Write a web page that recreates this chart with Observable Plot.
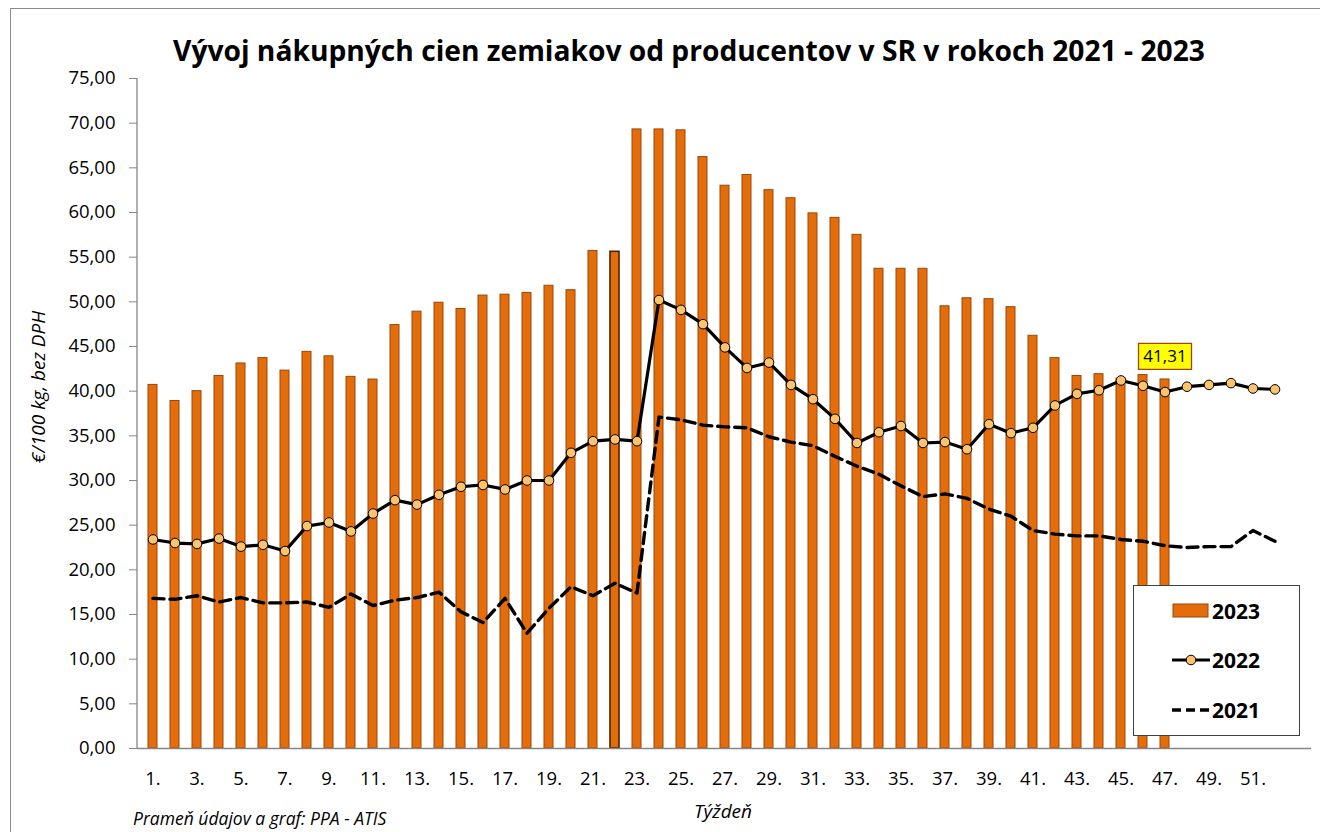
<!DOCTYPE html>
<html>
<head>
<meta charset="utf-8">
<script src="https://cdn.jsdelivr.net/npm/d3@7"></script>
<script src="https://cdn.jsdelivr.net/npm/@observablehq/plot@0.6"></script>
<style>
  body { margin: 0; background: #fff; }
  #wrap { position: relative; width: 1320px; height: 832px; overflow: hidden; font-family: "Open Sans", sans-serif; background: #fff; }
  #border { position: absolute; left: 10px; top: 8px; width: 1400px; height: 900px; border-left: 1.5px solid #8c8c8c; border-top: 1.5px solid #8c8c8c; box-sizing: border-box; }
  #chart { position: absolute; left: 0; top: 0; }
  #title { position: absolute; left: 0; top: 31px; width: 1378px; text-align: center; font-weight: 700; font-size: 28.2px; line-height: 38px; color: #000; }
  #ylabel { position: absolute; left: 38px; top: 387px; transform: translate(-50%, -50%) rotate(-90deg); font-style: italic; font-size: 19px; white-space: nowrap; color: #000; }
  #xlabel { position: absolute; left: 723px; top: 811px; transform: translate(-50%, -50%); font-style: italic; font-size: 19px; white-space: nowrap; color: #000; }
  #caption { position: absolute; left: 133px; top: 818px; transform: translateY(-50%); font-style: italic; font-size: 17.5px; white-space: nowrap; color: #000; }
  #legend { position: absolute; left: 1133px; top: 585px; width: 167px; height: 151px; border: 1.5px solid #404040; background: #fff; box-sizing: border-box; }
</style>
</head>
<body>
<div id="wrap">
  <div id="border"></div>
  <div id="chart"></div>
  <div id="title"></div>
  <div id="ylabel"></div>
  <div id="xlabel"></div>
  <div id="caption"></div>
  <div id="legend"></div>
</div>
<script>
// ---------- DATA ----------
const titleText = "Vývoj nákupných cien zemiakov od producentov v SR v rokoch 2021 - 2023";
const yAxisTitle = "€/100 kg, bez DPH";
const xAxisTitle = "Týždeň";
const sourceText = "Prameň údajov a graf: PPA - ATIS";
const seriesNames = ["2023", "2022", "2021"];

const weeks = d3.range(1, 54);            // category axis: weeks 1..53
const xTickWeeks = d3.range(1, 52, 2);    // labelled weeks 1., 3., ... 51.
const yTicks = d3.range(0, 76, 5);        // 0,00 ... 75,00

const prices2023 = [40.7, 38.9, 40.0, 41.7, 43.1, 43.7, 42.3, 44.4, 43.9, 41.6,
                    41.3, 47.4, 48.9, 49.9, 49.2, 50.7, 50.8, 51.0, 51.8, 51.3,
                    55.7, 55.6, 69.3, 69.3, 69.2, 66.2, 63.0, 64.2, 62.5, 61.6,
                    59.9, 59.4, 57.5, 53.7, 53.7, 53.7, 49.5, 50.4, 50.3, 49.4,
                    46.2, 43.7, 41.7, 41.9, 41.4, 41.8, 41.31];
const prices2022 = [23.4, 23.0, 22.9, 23.5, 22.6, 22.8, 22.1, 24.9, 25.3, 24.3,
                    26.3, 27.8, 27.3, 28.4, 29.3, 29.5, 29.0, 30.0, 30.0, 33.1,
                    34.4, 34.6, 34.4, 50.2, 49.1, 47.5, 44.9, 42.6, 43.2, 40.7,
                    39.1, 36.9, 34.2, 35.4, 36.1, 34.2, 34.3, 33.5, 36.3, 35.3,
                    35.9, 38.4, 39.7, 40.1, 41.2, 40.6, 39.9, 40.5, 40.7, 40.9,
                    40.3, 40.2];
const prices2021 = [16.8, 16.7, 17.1, 16.4, 16.9, 16.3, 16.3, 16.4, 15.8, 17.3,
                    16.0, 16.6, 16.9, 17.5, 15.3, 14.1, 16.8, 12.9, 15.7, 18.1,
                    17.1, 18.5, 17.4, 37.1, 36.8, 36.2, 36.0, 35.9, 34.9, 34.3,
                    33.9, 32.7, 31.6, 30.7, 29.4, 28.2, 28.5, 28.0, 26.8, 26.0,
                    24.4, 24.0, 23.8, 23.8, 23.4, 23.2, 22.7, 22.5, 22.6, 22.6,
                    24.4, 23.2];
const highlightedWeek = 22;   // bar drawn with a darker outline in the original

// ---------- TABLES ----------
const bars = prices2023.map((v, i) => ({week: i + 1, value: v}));
const line22 = prices2022.map((v, i) => ({week: i + 1, value: v}));
const line21 = prices2021.map((v, i) => ({week: i + 1, value: v}));
const lastLabel = [bars[bars.length - 1]];

const comma2 = v => d3.format(".2f")(v).replace(".", ",");
const dotFill = "#F9C46C";
const barFill = "#E46C0A";
const barStroke = "#984807";

const boxSymbol = { draw(ctx) { ctx.rect(-26.5, -13, 53, 26); } };

function leftAxisLine(index, scales, values, dimensions) {
  const {marginLeft, marginTop, height, marginBottom} = dimensions;
  const ns = "http://www.w3.org/2000/svg";
  const l = document.createElementNS(ns, "line");
  l.setAttribute("x1", marginLeft); l.setAttribute("x2", marginLeft);
  l.setAttribute("y1", marginTop); l.setAttribute("y2", height - marginBottom);
  l.setAttribute("stroke", "#868686"); l.setAttribute("stroke-width", 1.3);
  return l;
}

const chart = Plot.plot({
  width: 1320,
  height: 832,
  marginLeft: 137,
  marginRight: 9,
  marginTop: 78,
  marginBottom: 84,
  style: {fontFamily: "Open Sans", fontSize: "18px", color: "#000", background: "transparent", overflow: "visible"},
  x: {type: "band", domain: weeks, paddingInner: 0.6, paddingOuter: 0.3, label: null},
  y: {domain: [0, 75], label: null},
  marks: [
    Plot.barY(bars, {x: "week", y: "value", fill: barFill,
      stroke: d => d.week === highlightedWeek ? "#4a2200" : barStroke,
      strokeWidth: d => d.week === highlightedWeek ? 1.6 : 1}),
    Plot.ruleY([0], {stroke: "#868686", strokeWidth: 1.3}),
    leftAxisLine,
    Plot.axisY({ticks: yTicks, tickFormat: comma2, tickSize: 8, tickPadding: 14, stroke: "#868686", fill: "#000", label: null, fontSize: 18.5}),
    Plot.axisX({ticks: xTickWeeks, tickFormat: d => d + ".", tickSize: 0, tickPadding: 23, fill: "#000", label: null, fontSize: 18.5}),
    Plot.line(line21, {x: "week", y: "value", stroke: "#000", strokeWidth: 3.4, strokeDasharray: "11,6", strokeLinejoin: "round"}),
    Plot.line(line22, {x: "week", y: "value", stroke: "#000", strokeWidth: 3.2, strokeLinejoin: "round"}),
    Plot.dot(line22, {x: "week", y: "value", r: 4.8, fill: dotFill, stroke: "#000", strokeWidth: 1}),
    Plot.dot(lastLabel, {x: "week", y: "value", dy: -23, symbol: boxSymbol, r: 10, fill: "#FFFF00", stroke: "#A8401A", strokeWidth: 1.3}),
    Plot.text(lastLabel, {x: "week", y: "value", dy: -23, text: d => comma2(d.value), fontSize: 17, fill: "#000"})
  ]
});
document.getElementById("chart").appendChild(chart);

document.getElementById("title").textContent = titleText;
document.getElementById("ylabel").textContent = yAxisTitle;
document.getElementById("xlabel").textContent = xAxisTitle;
document.getElementById("caption").textContent = sourceText;

// legend
const lg = d3.select("#legend").append("svg").attr("width", 164).attr("height", 148)
  .style("position", "absolute").style("left", "0").style("top", "0")
  .style("font-family", "Open Sans").style("font-weight", 700).style("font-size", "21px");
const rows = [{name: seriesNames[0], y: 25}, {name: seriesNames[1], y: 74}, {name: seriesNames[2], y: 124}];
lg.append("rect").attr("x", 39).attr("y", rows[0].y - 7).attr("width", 35).attr("height", 13)
  .attr("fill", barFill).attr("stroke", barStroke);
lg.append("line").attr("x1", 38).attr("x2", 76).attr("y1", rows[1].y).attr("y2", rows[1].y)
  .attr("stroke", "#000").attr("stroke-width", 3.2);
lg.append("circle").attr("cx", 57).attr("cy", rows[1].y).attr("r", 4.8)
  .attr("fill", dotFill).attr("stroke", "#000");
lg.append("line").attr("x1", 38).attr("x2", 76).attr("y1", rows[2].y).attr("y2", rows[2].y)
  .attr("stroke", "#000").attr("stroke-width", 3.4).attr("stroke-dasharray", "9,5");
rows.forEach(r => lg.append("text").attr("x", 78).attr("y", r.y).attr("dy", "0.36em").text(r.name));
</script>
</body>
</html>
